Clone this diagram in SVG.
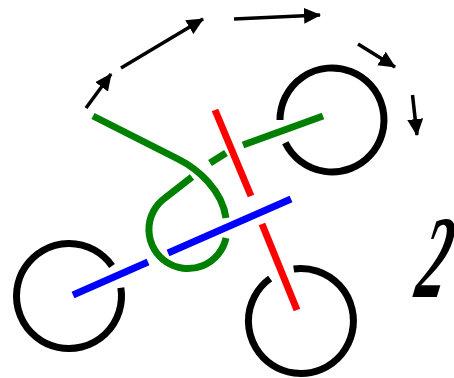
<svg xmlns="http://www.w3.org/2000/svg" width="454" height="378" viewBox="0 0 454 378">
<defs>
<style>
.k{fill:none;stroke:#000;stroke-width:7}
.g{fill:none;stroke:#008000;stroke-width:7}
.r{fill:none;stroke:#ff0000;stroke-width:7}
.b{fill:none;stroke:#0000ff;stroke-width:7}
.a{fill:none;stroke:#000;stroke-width:3.5;marker-end:url(#ah)}
.lbl{font-family:"Liberation Serif","DejaVu Serif",serif;font-style:italic;font-weight:bold;font-size:118px;fill:#000}
</style>
<marker id="ah" markerUnits="userSpaceOnUse" markerWidth="17" markerHeight="16" viewBox="0 0 17 16" refX="16" refY="8" orient="auto">
<path d="M0,0 L17,8 L0,16 z" fill="#000"/>
</marker>
</defs>
<rect width="454" height="378" fill="#fff"/>
<g id="circle-left"><path class="k" d="M120.85,287.8 A52.5,52.5 0 1 1 112,265.9"/></g>
<g id="circle-bottom"><path class="k" d="M293.7,269 A52.5,52.5 0 1 1 270.1,278.5"/></g>
<g id="circle-top"><path class="k" d="M280,120 A52,52 0 1 1 285.3,142.8"/></g>
<g id="strands">
<path class="g" d="M93,116 L178,159 C198,169 222,190 226,218"/>
<path class="g" d="M226,238 A39,39 0 1 1 165,198 L192,177"/>
<path class="g" d="M210,163 L226,153"/>
<path class="g" d="M243,145 L323,116"/>
<path class="b" d="M73,295 L148,262"/>
<path class="b" d="M168,253 L291,199"/>
<path class="r" d="M215,110 L251,196"/>
<path class="r" d="M262,224 L297,310"/>
</g>
<g id="connectors">
<path class="a" d="M86,108 L111,74"/>
<path class="a" d="M121,68 L203,19"/>
<path class="a" d="M234,19 L320,15"/>
<path class="a" d="M358,44 L395,67"/>
<path class="a" d="M412.5,95 L417,135"/>
</g>
<g id="label"><text class="lbl" transform="translate(413,297) skewX(-12) scale(0.5,1)">2</text></g>
</svg>
